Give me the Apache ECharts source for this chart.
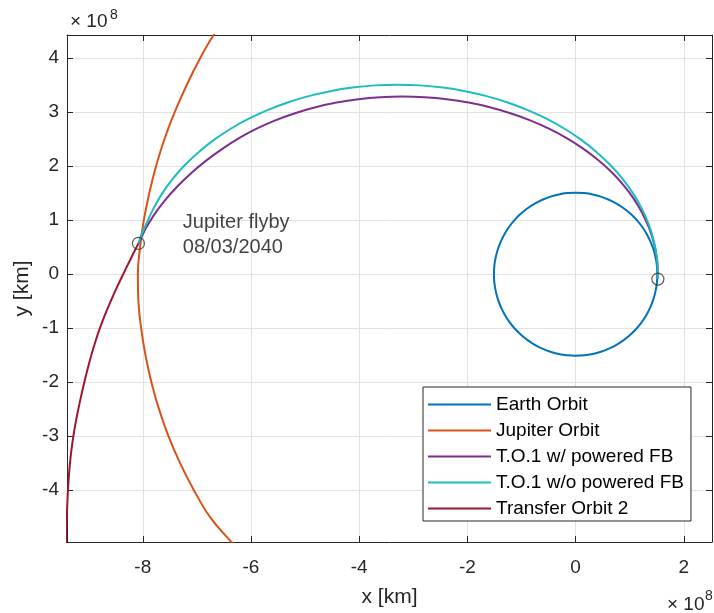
<!DOCTYPE html>
<html>
<head>
<meta charset="utf-8">
<script src="https://cdn.jsdelivr.net/npm/echarts@6/dist/echarts.min.js"></script>
<style>
html,body{margin:0;padding:0;background:#fff;}
#chart{width:714px;height:613px;}
</style>
</head>
<body>
<div id="chart"></div>
<script>
// All coordinates in units of 1e8 km (axis exponent x10^8)
const xTicks = [-8, -6, -4, -2, 0, 2];
const yTicks = [-4, -3, -2, -1, 0, 1, 2, 3, 4];
const xRange = [-9.40, 2.52];
const yRange = [-4.96, 4.43];

const seriesNames = ['Earth Orbit', 'Jupiter Orbit', 'T.O.1 w/ powered FB', 'T.O.1 w/o powered FB', 'Transfer Orbit 2'];
const seriesColors = ['#0072BD', '#D95319', '#7E2F8E', '#1CBDBF', '#A2142F'];

const earthOrbit = [
  [1.510,0],[1.502,0.158],[1.477,0.314],[1.436,0.467],[1.379,0.614],[1.308,0.755],[1.222,0.888],[1.122,1.010],
  [1.010,1.122],[0.888,1.222],[0.755,1.308],[0.614,1.379],[0.467,1.436],[0.314,1.477],[0.158,1.502],[0,1.510],
  [-0.158,1.502],[-0.314,1.477],[-0.467,1.436],[-0.614,1.379],[-0.755,1.308],[-0.888,1.222],[-1.010,1.122],[-1.122,1.010],
  [-1.222,0.888],[-1.308,0.755],[-1.379,0.614],[-1.436,0.467],[-1.477,0.314],[-1.502,0.158],[-1.510,0],
  [-1.502,-0.158],[-1.477,-0.314],[-1.436,-0.467],[-1.379,-0.614],[-1.308,-0.755],[-1.222,-0.888],[-1.122,-1.010],
  [-1.010,-1.122],[-0.888,-1.222],[-0.755,-1.308],[-0.614,-1.379],[-0.467,-1.436],[-0.314,-1.477],[-0.158,-1.502],[0,-1.510],
  [0.158,-1.502],[0.314,-1.477],[0.467,-1.436],[0.614,-1.379],[0.755,-1.308],[0.888,-1.222],[1.010,-1.122],[1.122,-1.010],
  [1.222,-0.888],[1.308,-0.755],[1.379,-0.614],[1.436,-0.467],[1.477,-0.314],[1.502,-0.158],[1.510,0]
];

const jupiterOrbit = [
  [-6.32,4.95],[-6.69,4.43],[-6.94,4.00],[-7.19,3.50],[-7.41,3.00],[-7.60,2.50],[-7.755,2.00],[-7.88,1.50],
  [-7.98,1.00],[-8.05,0.50],[-8.09,0.00],[-8.08,-0.50],[-8.03,-1.00],[-7.95,-1.50],[-7.84,-2.00],[-7.70,-2.50],
  [-7.525,-3.00],[-7.31,-3.50],[-7.055,-4.00],[-6.755,-4.50],[-6.36,-4.96],[-5.87,-5.45]
];

const to1Powered = [
  [1.520,-0.08],[1.515,0.10],[1.502,0.287],[1.448,0.571],[1.359,0.851],[1.235,1.125],[1.078,1.390],[0.888,1.645],
  [0.667,1.887],[0.416,2.115],[0.138,2.326],[-0.166,2.520],[-0.493,2.695],[-0.840,2.849],[-1.205,2.982],
  [-1.586,3.092],[-1.978,3.178],[-2.381,3.240],[-2.788,3.277],[-3.200,3.290],[-3.610,3.277],[-4.016,3.240],
  [-4.416,3.178],[-4.807,3.092],[-5.186,2.982],[-5.550,2.849],[-5.896,2.695],[-6.221,2.520],[-6.523,2.326],
  [-6.823,2.108],[-7.107,1.870],[-7.366,1.620],[-7.598,1.359],[-7.794,1.095],[-7.953,0.831],[-8.076,0.571]
];

const to1Unpowered = [
  [1.520,-0.08],[1.515,0.12],[1.502,0.306],[1.447,0.609],[1.356,0.908],[1.230,1.200],[1.069,1.483],[0.875,1.755],
  [0.650,2.013],[0.394,2.256],[0.111,2.482],[-0.198,2.689],[-0.531,2.875],[-0.885,3.040],[-1.257,3.181],
  [-1.645,3.298],[-2.045,3.390],[-2.455,3.457],[-2.871,3.497],[-3.290,3.510],[-3.709,3.497],[-4.125,3.457],
  [-4.535,3.390],[-4.935,3.298],[-5.323,3.181],[-5.695,3.040],[-6.049,2.875],[-6.382,2.689],[-6.691,2.482],
  [-6.974,2.256],[-7.230,2.013],[-7.455,1.755],[-7.649,1.483],[-7.810,1.200],[-7.940,0.920],[-8.020,0.740],[-8.080,0.570]
];

const transferOrbit2 = [
  [-8.08,0.57],[-8.24,0.25],[-8.362,0.00],[-8.48,-0.25],[-8.592,-0.50],[-8.697,-0.75],[-8.792,-1.00],[-8.876,-1.25],
  [-8.951,-1.50],[-9.018,-1.75],[-9.08,-2.00],[-9.137,-2.25],[-9.191,-2.50],[-9.24,-2.75],[-9.282,-3.00],[-9.317,-3.25],
  [-9.345,-3.50],[-9.366,-3.75],[-9.382,-4.00],[-9.394,-4.25],[-9.404,-4.50],[-9.42,-5.00]
];

const eventMarkers = [[-8.08,0.57],[1.52,-0.09]];
const annotationPos = [-7.26, 0.725];
const annotationText = ['Jupiter flyby', '08/03/2040'];

const FONT = "'Liberation Sans', Arial, Helvetica, sans-serif";
const AX = '#262626';

const chart = echarts.init(document.getElementById('chart'), null, {renderer: 'canvas'});

function mainAxis(isX) {
  const ticks = isX ? xTicks : yTicks;
  const r = isX ? xRange : yRange;
  return {
    type: 'value',
    position: isX ? 'bottom' : 'left',
    min: r[0], max: r[1],
    name: isX ? 'x [km]' : 'y [km]',
    nameLocation: 'middle',
    nameGap: isX ? 45 : 34,
    nameMoveOverlap: false,
    nameTextStyle: {fontSize: 21, color: AX, fontFamily: FONT},
    axisLine: {show: true, onZero: false, lineStyle: {color: AX, width: 1}},
    axisTick: {show: true, inside: true, length: 6, customValues: ticks, lineStyle: {color: AX, width: 1}},
    axisLabel: {show: true, customValues: ticks, fontSize: 19, color: AX, fontFamily: FONT, margin: isX ? 16 : 8},
    splitLine: {show: true, lineStyle: {color: '#E2E2E2', width: 1}},
    minorTick: {show: false}
  };
}
function mirrorAxis(isX) {
  const ticks = isX ? xTicks : yTicks;
  const r = isX ? xRange : yRange;
  return {
    type: 'value',
    position: isX ? 'top' : 'right',
    min: r[0], max: r[1],
    axisLine: {show: true, onZero: false, lineStyle: {color: AX, width: 1}},
    axisTick: {show: true, inside: true, length: 6, customValues: ticks, lineStyle: {color: AX, width: 1}},
    axisLabel: {show: false},
    splitLine: {show: false}
  };
}

const orbitData = [earthOrbit, jupiterOrbit, to1Powered, to1Unpowered, transferOrbit2];

const series = orbitData.map((d, i) => ({
  type: 'line',
  name: seriesNames[i],
  data: d,
  xAxisIndex: 0, yAxisIndex: 0,
  symbol: 'none',
  smooth: 0.4,
  clip: true,
  lineStyle: {color: seriesColors[i], width: 2},
  itemStyle: {color: seriesColors[i]},
  z: 3 + i,
  silent: true
}));

series.push({
  type: 'scatter',
  name: 'events',
  data: eventMarkers,
  symbol: 'circle',
  symbolSize: 12,
  itemStyle: {color: 'rgba(0,0,0,0)', borderColor: '#333', borderWidth: 1.2},
  z: 20,
  silent: true
});

series.push({
  type: 'scatter',
  name: 'annotation',
  data: [annotationPos],
  symbolSize: 0,
  itemStyle: {color: 'rgba(0,0,0,0)'},
  label: {
    show: true, position: 'right', distance: 0,
    formatter: annotationText.join('\n'),
    fontSize: 20, lineHeight: 25, color: '#111', fontFamily: FONT, align: 'left', verticalAlign: 'middle'
  },
  z: 21,
  silent: true
});

chart.setOption({
  animation: false,
  backgroundColor: '#fff',
  grid: {left: 67, right: 2, top: 35, bottom: 70, containLabel: false},
  xAxis: [mainAxis(true), mirrorAxis(true)],
  yAxis: [mainAxis(false), mirrorAxis(false)],
  legend: {
    data: seriesNames,
    orient: 'vertical',
    left: 423, top: 387,
    icon: 'rect',
    itemWidth: 63, itemHeight: 2, itemGap: 7,
    padding: [8, 7, 3, 5],
    borderColor: AX, borderWidth: 1,
    backgroundColor: '#fff',
    selectedMode: false,
    textStyle: {fontSize: 19, color: '#000', fontFamily: FONT, lineHeight: 19},
    z: 30
  },
  graphic: [
    {type: 'text', left: 70, top: 12, style: {text: '× 10', fontSize: 19, fontFamily: FONT, fill: AX}},
    {type: 'text', left: 110, top: 8, style: {text: '8', fontSize: 14, fontFamily: FONT, fill: AX}},
    {type: 'text', left: 667, top: 595, style: {text: '× 10', fontSize: 19, fontFamily: FONT, fill: AX}},
    {type: 'text', left: 705, top: 589, style: {text: '8', fontSize: 14, fontFamily: FONT, fill: AX}}
  ],
  series: series
});
</script>
</body>
</html>
